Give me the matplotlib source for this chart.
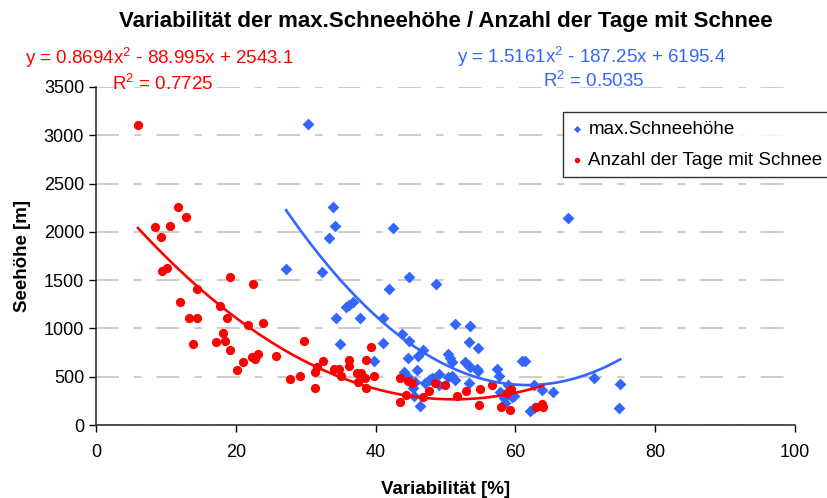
import numpy as np
import matplotlib
matplotlib.use('Agg')
import matplotlib.pyplot as plt

plt.rcParams['font.family'] = ['Liberation Sans', 'DejaVu Sans']
plt.rcParams['mathtext.fontset'] = 'custom'
plt.rcParams['mathtext.rm'] = 'Liberation Sans'
plt.rcParams['mathtext.it'] = 'Liberation Sans'
plt.rcParams['lines.scale_dashes'] = False

# max.Schneehöhe (blue diamonds): variability [%], elevation [m]
schnee_x = [30.4, 33.9, 34.2, 33.3, 42.5, 67.5, 27.2, 32.4, 44.8, 48.6, 41.9, 36.7,
            36.2, 35.8, 34.3, 37.7, 41.1, 51.4, 53.5, 43.8, 44.8, 34.9, 41.1, 46.8,
            53.4, 54.7, 44.6, 46.1, 39.8, 50.3, 50.6, 50.9, 52.8, 53.2, 53.5, 54.5,
            45.9, 44.1, 44.4, 44.7, 49.1, 50.4, 51.0, 51.4, 47.0, 47.7, 48.0, 45.6,
            53.3, 57.3, 57.6, 45.4, 45.5, 46.4, 49.1, 57.8, 58.3, 59.0, 59.5, 59.8,
            58.5, 60.9, 61.4, 62.1, 62.6, 62.6, 63.8, 65.4, 71.2, 75.0, 74.8, 54.6]
schnee_y = [3115, 2253, 2057, 1935, 2042, 2140, 1615, 1584, 1529, 1456, 1404, 1270,
            1242, 1218, 1104, 1104, 1104, 1045, 1028, 945, 867, 835, 845, 776,
            862, 802, 695, 710, 666, 735, 690, 655, 655, 621, 604, 580,
            565, 552, 512, 500, 532, 494, 510, 466, 438, 470, 483, 448,
            440, 576, 510, 380, 300, 200, 414, 345, 276, 414, 293, 300,
            224, 666, 666, 145, 172, 414, 362, 345, 483, 421, 181, 562]

# Anzahl der Tage mit Schnee (red circles)
tage_x = [6.0, 8.5, 9.3, 10.6, 11.8, 12.9, 9.4, 10.1, 19.2, 22.5, 14.5, 12.0,
          17.7, 13.3, 14.4, 18.7, 21.7, 23.9, 18.1, 18.4, 13.9, 17.1, 19.2, 20.2,
          21.1, 22.3, 22.7, 23.2, 25.7, 27.8, 29.7, 29.2, 31.3, 31.3, 31.6, 32.5,
          34.1, 34.8, 35.1, 36.2, 36.2, 37.4, 37.9, 37.5, 38.5, 38.6, 39.3, 39.7,
          38.6, 43.5, 44.7, 45.2, 43.5, 44.3, 46.8, 47.7, 48.5, 50.0, 51.7, 53.0,
          54.8, 55.0, 56.7, 57.9, 59.2, 58.8, 59.4, 62.9, 63.8, 64.0]
tage_y = [3110, 2050, 1946, 2063, 2259, 2153, 1594, 1622, 1535, 1456, 1411, 1276,
          1232, 1111, 1111, 1111, 1035, 1052, 949, 869, 835, 856, 776, 569,
          655, 707, 680, 732, 717, 476, 869, 507, 386, 552, 604, 662,
          580, 580, 507, 673, 611, 535, 541, 448, 490, 673, 810, 507,
          386, 490, 458, 435, 240, 310, 293, 355, 431, 414, 305, 352,
          207, 370, 414, 190, 155, 330, 372, 190, 215, 183]

# polynomial trendlines as printed on the chart
coef_schnee = [1.5161, -187.25, 6195.4]
coef_tage = [0.8694, -88.995, 2543.1]

x_ticks = [0, 20, 40, 60, 80, 100]
y_ticks = [0, 500, 1000, 1500, 2000, 2500, 3000, 3500]

blue = '#3366FF'
red = '#FF0000'

fig = plt.figure(figsize=(8.28, 4.98), dpi=100)
ax = fig.add_axes([96 / 828, 73 / 498, (795 - 96) / 828, (425 - 87) / 498])

ax.yaxis.grid(True, color='#C8C8C8', linewidth=1.3,
              linestyle=(0, (16.5, 10.8, 5.4, 10.8)), zorder=0)
ax.set_axisbelow(True)

ax.scatter(schnee_x, schnee_y, marker='D', s=36, c=blue, linewidths=0,
           label='max.Schneehöhe', zorder=3)
ax.scatter(tage_x, tage_y, marker='o', s=44, c=red, linewidths=0,
           label='Anzahl der Tage mit Schnee', zorder=3)

xs = np.linspace(min(schnee_x), max(schnee_x), 200)
ax.plot(xs, np.polyval(coef_schnee, xs), color=blue, lw=1.9, zorder=4)
xt = np.linspace(min(tage_x), max(tage_x), 200)
ax.plot(xt, np.polyval(coef_tage, xt), color=red, lw=1.9, zorder=4)

ax.set_xlim(0, 100)
ax.set_ylim(0, 3500)
ax.set_xticks(x_ticks)
ax.set_yticks(y_ticks)
ax.tick_params(labelsize=13, length=5, width=1, direction='out', colors='black')
ax.tick_params(axis='x', pad=9)
for s in ['top', 'right']:
    ax.spines[s].set_visible(False)
for s in ['left', 'bottom']:
    ax.spines[s].set_linewidth(1.2)
    ax.spines[s].set_color('#333333')

ax.set_xlabel('Variabilität [%]', fontsize=13.5, fontweight='bold', labelpad=14)
ax.set_ylabel('Seehöhe [m]', fontsize=13.5, fontweight='bold', labelpad=9)

fig.text(446 / 828, 1 - 21 / 498, 'Variabilität der max.Schneehöhe / Anzahl der Tage mit Schnee',
         ha='center', va='center', fontsize=16, fontweight='bold')

fig.text(25 / 828, 1 - 58 / 498, 'y = 0.8694x$^2$ - 88.995x + 2543.1',
         ha='left', va='center', fontsize=13.5, color=red)
fig.text(163 / 828, 1 - 84 / 498, 'R$^2$ = 0.7725',
         ha='center', va='center', fontsize=13.5, color=red)
fig.text(591 / 828, 1 - 57 / 498, 'y = 1.5161x$^2$ - 187.25x + 6195.4',
         ha='center', va='center', fontsize=13.5, color=blue)
fig.text(594 / 828, 1 - 81 / 498, 'R$^2$ = 0.5035',
         ha='center', va='center', fontsize=13.5, color=blue)

leg = ax.legend(loc='upper left', bbox_to_anchor=(563 / 828, 1 - 112 / 498),
                bbox_transform=fig.transFigure, fontsize=13.5, markerscale=0.6,
                frameon=True, fancybox=False, edgecolor='black',
                handletextpad=0.3, handlelength=0.6, borderpad=0.45,
                labelspacing=0.75, borderaxespad=0)
leg.get_frame().set_linewidth(1.0)

fig.savefig('out.png', dpi=100)
